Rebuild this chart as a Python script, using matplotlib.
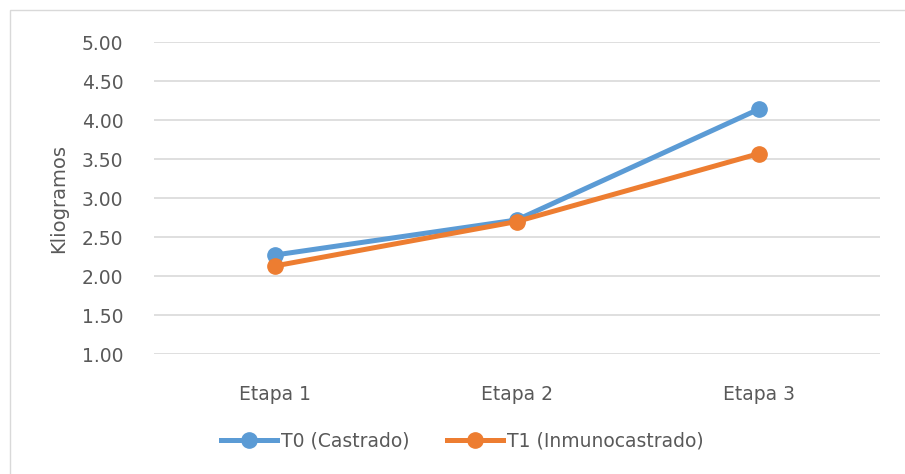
import matplotlib.pyplot as plt
from matplotlib.patches import Rectangle

# data
etapas = ['Etapa 1', 'Etapa 2', 'Etapa 3']
t0_castrado = [2.27, 2.72, 4.14]
t1_inmuno = [2.13, 2.70, 3.57]
y_ticks = [1.00, 1.50, 2.00, 2.50, 3.00, 3.50, 4.00, 4.50, 5.00]

plt.rcParams['font.family'] = ['DejaVu Sans']
text_color = '#595959'

fig = plt.figure(figsize=(9.05, 4.74), dpi=100)
ax = fig.add_axes([0.170, 0.253, 0.802, 0.658])

x = range(len(etapas))
ax.plot(x, t0_castrado, color='#5B9BD5', lw=3.6, marker='o', ms=11,
        label='T0 (Castrado)', zorder=3)
ax.plot(x, t1_inmuno, color='#ED7D31', lw=3.6, marker='o', ms=11,
        label='T1 (Inmunocastrado)', zorder=4)

ax.set_xlim(-0.5, len(etapas) - 0.5)
ax.set_ylim(1.0, 5.0)
ax.set_yticks(y_ticks)
ax.set_yticklabels([f'{v:.2f}' for v in y_ticks])
ax.set_xticks(list(x))
ax.set_xticklabels(etapas)
ax.yaxis.grid(True, color='#D9D9D9', lw=1.2)
ax.set_axisbelow(True)
for s in ax.spines.values():
    s.set_visible(False)
ax.tick_params(axis='both', length=0, labelsize=13.5, colors=text_color)
ax.tick_params(axis='y', pad=22)
ax.tick_params(axis='x', pad=22)
ax.set_ylabel('Kliogramos', fontsize=14, color=text_color, labelpad=10)

leg = ax.legend(loc='upper center', bbox_to_anchor=(0.425, -0.195), ncol=2,
                frameon=False, fontsize=13.5, handlelength=3.0,
                columnspacing=2.0, handletextpad=0.2)
for t in leg.get_texts():
    t.set_color(text_color)

# chart border
fig.patches.append(Rectangle((10 / 905, -0.1), 1.1, 1 - 10 / 474 + 0.1,
                             transform=fig.transFigure, fill=False,
                             edgecolor='#D9D9D9', lw=1))

fig.savefig('out.png', dpi=100)
